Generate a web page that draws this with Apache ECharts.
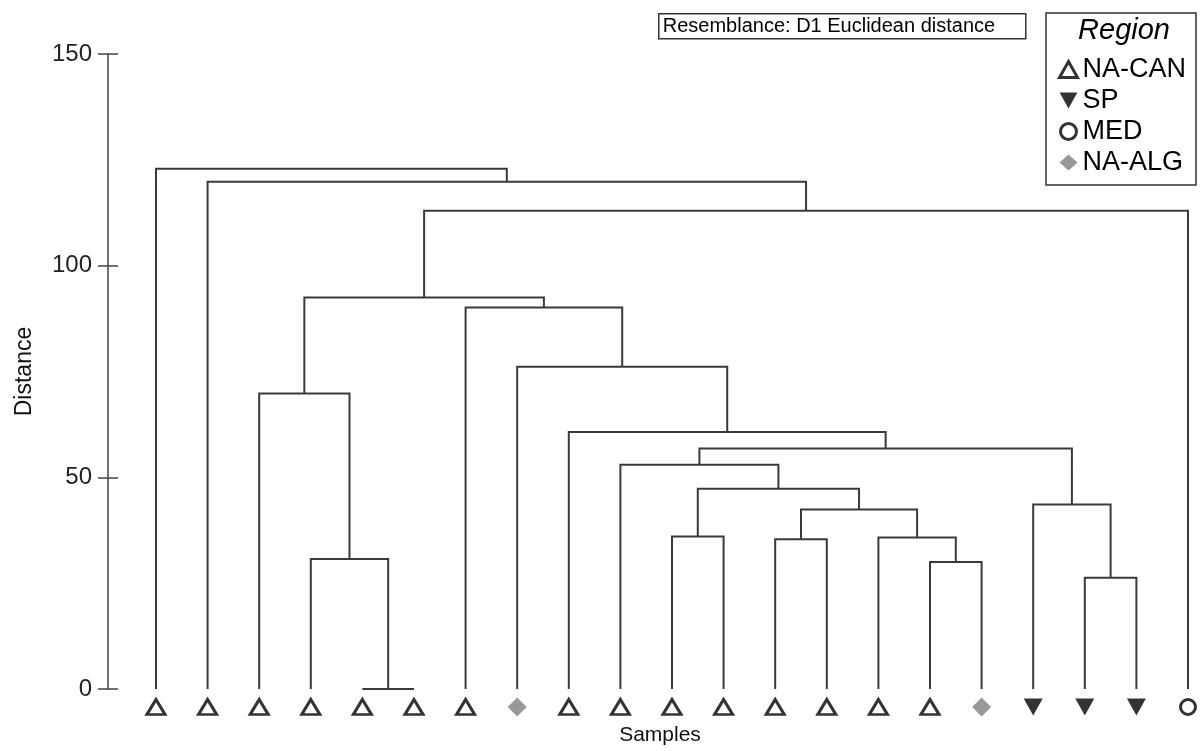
<!DOCTYPE html>
<html>
<head>
<meta charset="utf-8">
<script src="https://cdn.jsdelivr.net/npm/echarts@6/dist/echarts.min.js"></script>
<style>
  html, body { margin: 0; padding: 0; background: #ffffff; }
  #chart { width: 1200px; height: 751px; }
</style>
</head>
<body>
<div id="chart"></div>
<script>
// Samples along the bottom, left to right, and the region each belongs to
const leafRegions = [
  'NA-CAN', 'NA-CAN', 'NA-CAN', 'NA-CAN', 'NA-CAN', 'NA-CAN', 'NA-CAN',
  'NA-ALG',
  'NA-CAN', 'NA-CAN', 'NA-CAN', 'NA-CAN', 'NA-CAN', 'NA-CAN', 'NA-CAN', 'NA-CAN',
  'NA-ALG',
  'SP', 'SP', 'SP',
  'MED'
];
const regionNames = ['NA-CAN', 'SP', 'MED', 'NA-ALG'];

// Agglomeration steps. Node ids 0..20 are samples; id 21 + k is the k-th merge.
const mergeLeft   = [4,  3, 2, 10, 12, 15, 14, 25, 24,  9, 18, 17, 30,  8,  7,  6, 23, 37,  1,  0];
const mergeRight  = [5, 21, 22, 11, 13, 16, 26, 27, 28, 29, 19, 31, 32, 33, 34, 35, 36, 20, 38, 39];
const mergeHeight = [0, 30.7, 69.8, 36.0, 35.4, 30.0, 35.8, 42.4, 47.3, 53.0,
                     26.3, 43.6, 56.8, 60.7, 76.1, 90.1, 92.5, 113.0, 119.8, 122.9];

const yTicks = [0, 50, 100, 150];

// Node positions: samples sit at their index, merges midway between children
const nLeaves = leafRegions.length;
const nodeX = [];
const nodeH = [];
for (let i = 0; i < nLeaves; i++) { nodeX.push(i); nodeH.push(0); }
const links = [];
for (let k = 0; k < mergeLeft.length; k++) {
  const l = mergeLeft[k], r = mergeRight[k], h = mergeHeight[k];
  links.push([nodeX[l], nodeH[l], nodeX[r], nodeH[r], h]);
  nodeX.push((nodeX[l] + nodeX[r]) / 2);
  nodeH.push(h);
}

const FONT = 'Arial, "Liberation Sans", sans-serif';
const LINE = '#3a3a3a';

const symbolStyles = {
  'NA-CAN': { symbol: 'triangle', symbolSize: [18, 15], itemStyle: { color: '#ffffff', borderColor: '#000000', borderWidth: 3 } },
  'SP':     { symbol: 'path://M0,0L10,0L5,9Z', symbolSize: [19, 17], itemStyle: { color: '#000000' } },
  'MED':    { symbol: 'circle', symbolSize: 15, itemStyle: { color: '#ffffff', borderColor: '#000000', borderWidth: 3 } },
  'NA-ALG': { symbol: 'diamond', symbolSize: [19, 19], itemStyle: { color: '#808080' } }
};

const markerSeries = regionNames.map(name => {
  const pts = [];
  leafRegions.forEach((r, i) => { if (r === name) pts.push([i, 0]); });
  return Object.assign({
    type: 'scatter',
    name: name,
    data: pts,
    symbolOffset: [0, 18],
    clip: false,
    silent: true,
    z: 5
  }, symbolStyles[name]);
});

const legendItems = regionNames.map(name => {
  const s = symbolStyles[name];
  return { name: name, icon: s.symbol, itemStyle: Object.assign({}, s.itemStyle) };
});

const yAxisBase = {
  type: 'value',
  position: 'left',
  min: yTicks[0],
  max: yTicks[yTicks.length - 1],
  interval: yTicks[1] - yTicks[0],
  splitLine: { show: false }
};

const chart = echarts.init(document.getElementById('chart'), null, { renderer: 'canvas' });
chart.setOption({
  animation: false,
  backgroundColor: '#ffffff',
  grid: { left: 108, right: 12, top: 54, bottom: 61, containLabel: false },
  xAxis: {
    type: 'value',
    // a little room left of the first sample, between it and the distance axis
    min: -0.93,
    max: nLeaves - 1,
    axisLine: { show: false },
    axisTick: { show: false },
    axisLabel: { show: false },
    splitLine: { show: false },
    name: 'Samples',
    nameLocation: 'middle',
    nameGap: 36,
    nameTextStyle: { fontFamily: FONT, fontSize: 21, color: '#111', padding: [0, 0, 0, 24] }
  },
  yAxis: [
    Object.assign({}, yAxisBase, {
      axisLine: { show: true, onZero: false, lineStyle: { color: '#444', width: 1.5 } },
      axisTick: { show: true, inside: false, length: 10, lineStyle: { color: '#444', width: 1.5 } },
      axisLabel: { show: true, margin: 16, fontFamily: FONT, fontSize: 24, color: '#222' },
      name: 'Distance',
      nameLocation: 'middle',
      nameGap: 72,
      nameRotate: 90,
      nameTextStyle: { fontFamily: FONT, fontSize: 23, color: '#111' }
    }),
    Object.assign({}, yAxisBase, {
      axisLine: { show: false, onZero: false },
      axisTick: { show: true, inside: true, length: 10, lineStyle: { color: '#444', width: 1.5 } },
      axisLabel: { show: false }
    })
  ],
  legend: {
    data: legendItems,
    orient: 'vertical',
    right: 4,
    top: 13,
    padding: [43, 10, 9, 12],
    itemWidth: 18,
    itemHeight: 16,
    itemGap: 4,
    itemTextGap: 9,
    borderColor: '#333',
    borderWidth: 1.5,
    selectedMode: false,
    textStyle: { fontFamily: FONT, fontSize: 27, color: '#000' }
  },
  graphic: [
    {
      type: 'group',
      left: 658,
      top: 13,
      children: [
        { type: 'rect', shape: { x: 0, y: 0, width: 367, height: 25 },
          style: { fill: '#ffffff', stroke: '#333', lineWidth: 1.5 } },
        { type: 'text', x: 4, y: 13,
          style: { text: 'Resemblance: D1 Euclidean distance', fontFamily: FONT, fontSize: 20,
                   fill: '#000', verticalAlign: 'middle', align: 'left' } }
      ]
    },
    {
      type: 'text',
      right: 30,
      top: 16,
      style: { text: 'Region', fontFamily: FONT, fontSize: 29, fontStyle: 'italic', fill: '#000' }
    }
  ],
  series: [
    {
      type: 'custom',
      name: 'tree',
      data: links,
      encode: { x: [0, 2], y: [1, 3, 4] },
      clip: false,
      silent: true,
      renderItem: function (params, api) {
        const a = api.coord([api.value(0), api.value(1)]);
        const b = api.coord([api.value(0), api.value(4)]);
        const c = api.coord([api.value(2), api.value(4)]);
        const d = api.coord([api.value(2), api.value(3)]);
        return {
          type: 'polyline',
          shape: { points: [a, b, c, d] },
          style: { stroke: LINE, lineWidth: 2, fill: null }
        };
      },
      z: 2
    }
  ].concat(markerSeries)
});
</script>
</body>
</html>
